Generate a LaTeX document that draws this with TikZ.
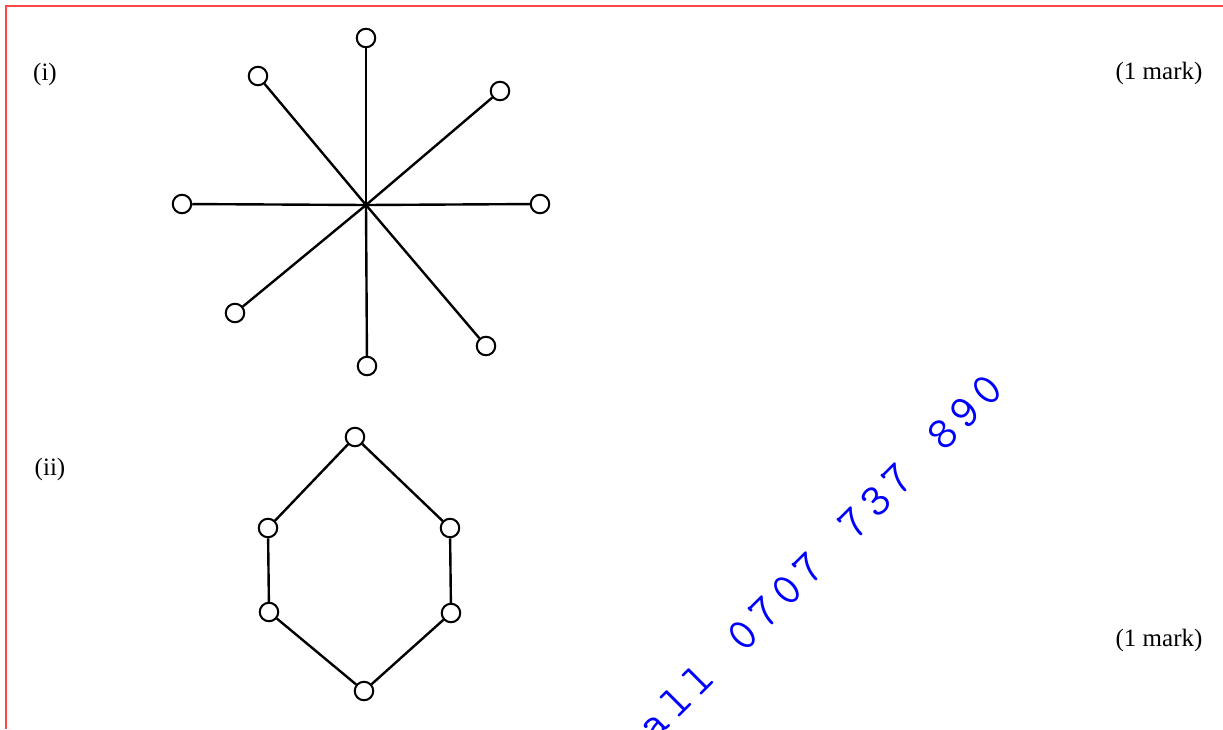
\documentclass[tikz,border=0pt]{standalone}
\usepackage{fontspec}
\setmainfont{Liberation Serif}
\definecolor{redline}{RGB}{255,70,70}
\definecolor{wmblue}{RGB}{0,0,255}
\newcommand\wc[1]{\makebox[31.5pt][c]{#1}}
\begin{document}
\begin{tikzpicture}[x=1pt,y=-1pt,
  vtx/.style={circle,draw,line width=2pt,minimum size=18.5pt,inner sep=0pt,fill=white},
  link/.style={line width=2.4pt},
  lbl/.style={font=\fontsize{25}{30}\selectfont,inner sep=0pt}]
\useasboundingbox (0,0) rectangle (1223,729);
\fill[white] (0,0) rectangle (1223,729);
\draw[draw=redline,line width=2pt] (5.5,729) -- (5.5,5.5) -- (1223,5.5);
% labels
\node[lbl] (li) at (45,74) {(i)};
\node[lbl] (lii) at (50,469) {(ii)};
\node[lbl] (m1) at (1159,73) {(1 mark)};
\node[lbl] (m2) at (1159,640) {(1 mark)};
% star graph
\coordinate (c) at (366,205);
\node[vtx] (s1) at (366,38) {};
\node[vtx] (s2) at (500,91) {};
\node[vtx] (s3) at (540,204) {};
\node[vtx] (s4) at (486,346) {};
\node[vtx] (s5) at (367,366) {};
\node[vtx] (s6) at (235,313) {};
\node[vtx] (s7) at (182,204) {};
\node[vtx] (s8) at (258,76) {};
\foreach \i in {1,...,8} \draw[link] (c) -- (s\i);
% hexagon
\node[vtx] (h1) at (355,437) {};
\node[vtx] (h2) at (450,528) {};
\node[vtx] (h3) at (451,613) {};
\node[vtx] (h4) at (364,691) {};
\node[vtx] (h5) at (269,612) {};
\node[vtx] (h6) at (268,528) {};
\draw[link] (h1) -- (h2) -- (h3) -- (h4) -- (h5) -- (h6) -- (h1);
% watermark
\node[anchor=base west,rotate=45,inner sep=0pt,text=wmblue,font=\ttfamily\fontsize{46}{56}\selectfont] (wm) at (652,745)
  {\wc{a}\wc{l}\wc{l}\wc{}\wc{0}\wc{7}\wc{0}\wc{7}\wc{}\wc{7}\wc{3}\wc{7}\wc{}\wc{8}\wc{9}\wc{0}};
\end{tikzpicture}
\end{document}
